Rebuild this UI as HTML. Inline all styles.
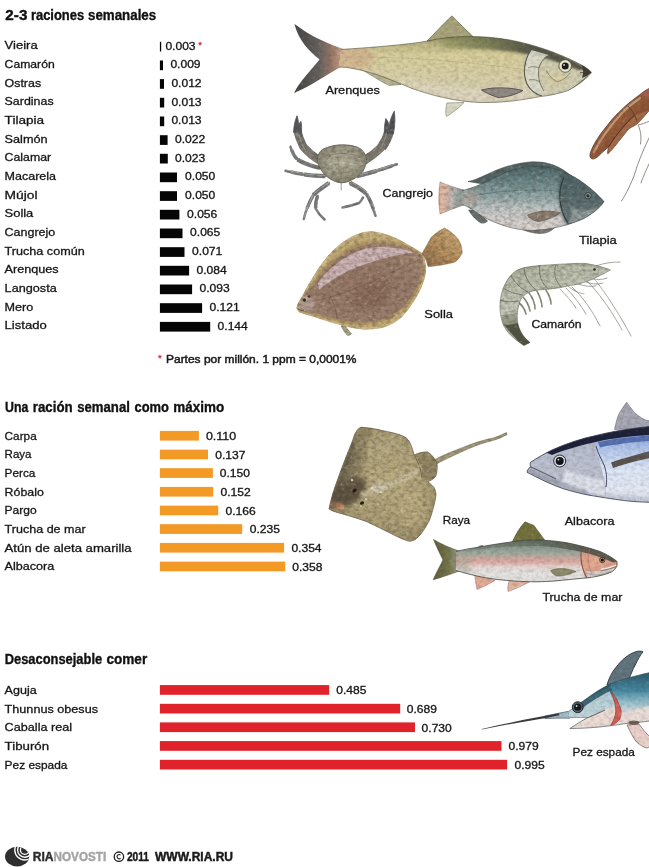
<!DOCTYPE html>
<html><head><meta charset="utf-8"><title>Mercurio en pescados</title>
<style>
html,body{margin:0;padding:0;background:#fff;}
body{width:649px;height:867px;overflow:hidden;font-family:"Liberation Sans",sans-serif;}
svg{display:block}
text{font-family:"Liberation Sans",sans-serif;}
</style></head><body>
<svg width="649" height="867" viewBox="0 0 649 867">
<rect width="649" height="867" fill="#ffffff"/>
<g id="art">
<defs>
  <filter id="b1" x="-40%" y="-40%" width="180%" height="180%"><feGaussianBlur stdDeviation="1"/></filter>
  <filter id="b2" x="-60%" y="-60%" width="220%" height="220%"><feGaussianBlur stdDeviation="2"/></filter>
  <filter id="b3" x="-80%" y="-80%" width="260%" height="260%"><feGaussianBlur stdDeviation="3.5"/></filter>
  <filter id="tex" x="-2%" y="-2%" width="104%" height="104%" color-interpolation-filters="sRGB">
    <feTurbulence type="fractalNoise" baseFrequency="0.22 0.3" numOctaves="3" seed="7" result="n"/>
    <feColorMatrix in="n" type="matrix" values="0 0 0 0 0.2  0 0 0 0 0.17  0 0 0 0 0.12  0.6 0.45 0 0 -0.44" result="dk"/>
    <feComposite in="dk" in2="SourceAlpha" operator="in" result="dkm"/>
    <feColorMatrix in="n" type="matrix" values="0 0 0 0 1  0 0 0 0 1  0 0 0 0 0.95  0 -0.45 -0.6 0 0.44" result="lt"/>
    <feComposite in="lt" in2="SourceAlpha" operator="in" result="ltm"/>
    <feMerge><feMergeNode in="SourceGraphic"/><feMergeNode in="dkm"/><feMergeNode in="ltm"/></feMerge>
  </filter>
  <filter id="texs" x="-2%" y="-2%" width="104%" height="104%" color-interpolation-filters="sRGB">
    <feTurbulence type="fractalNoise" baseFrequency="0.22 0.3" numOctaves="3" seed="7" result="n"/>
    <feColorMatrix in="n" type="matrix" values="0 0 0 0 0.2  0 0 0 0 0.17  0 0 0 0 0.12  0.3 0.25 0 0 -0.235" result="dk"/>
    <feComposite in="dk" in2="SourceAlpha" operator="in" result="dkm"/>
    <feColorMatrix in="n" type="matrix" values="0 0 0 0 1  0 0 0 0 1  0 0 0 0 0.95  0 -0.25 -0.3 0 0.235" result="lt"/>
    <feComposite in="lt" in2="SourceAlpha" operator="in" result="ltm"/>
    <feMerge><feMergeNode in="SourceGraphic"/><feMergeNode in="dkm"/><feMergeNode in="ltm"/></feMerge>
  </filter>
  <filter id="b05" x="-30%" y="-30%" width="160%" height="160%"><feGaussianBlur stdDeviation="0.5"/></filter>
  <!-- herring -->
  <linearGradient id="hBody" x1="0" y1="0" x2="0" y2="1">
    <stop offset="0" stop-color="#8a865a"/><stop offset="0.1" stop-color="#bdb584"/><stop offset="0.28" stop-color="#d8ce9c"/>
    <stop offset="0.65" stop-color="#d6cea8"/><stop offset="1" stop-color="#d9d0ba"/>
  </linearGradient>
  <linearGradient id="hTail" x1="0" y1="0" x2="1" y2="0">
    <stop offset="0" stop-color="#444442"/><stop offset="0.5" stop-color="#67625f"/><stop offset="0.78" stop-color="#a27c6c"/><stop offset="1" stop-color="#d2b596"/>
  </linearGradient>
  <linearGradient id="hBack" gradientUnits="userSpaceOnUse" x1="430" y1="0" x2="530" y2="0">
    <stop offset="0" stop-color="#7a7e56" stop-opacity="0"/><stop offset="0.45" stop-color="#6a6e4c" stop-opacity="0.55"/><stop offset="1" stop-color="#4c4e40" stop-opacity="0.92"/>
  </linearGradient>
  <clipPath id="hClip"><path d="M341,49.5 C370,47.5 405,45 428,41 C450,35.5 478,35.5 500,38.5 C525,41.5 556,51.5 580,64.2 C586,67.5 590,70 591.5,72.5 C588,77.5 578,85.5 568,90.5 C558,94 548,95.8 540,96.6 C525,99.5 505,103 480,102.5 C455,101.5 432,95.5 412,88.5 C392,80 366,68.5 339,66.8 Z"/></clipPath>
</defs>

<!-- ================= HERRING (Arenques) ================= -->
<g id="herring" filter="url(#texs)">
  <!-- tail -->
  <path d="M345,49.5 C330,45 310,36 294.5,24 C298,40 310,52 319.6,59.4 C311,70 299,82 294,93 C312,86 328,73 342,66.8 Z" fill="url(#hTail)"/>
  <!-- dorsal fin -->
  <path d="M427,41 C436,32 444,23 452,15.8 C458,22 466,30 474,37.5 Z" fill="#a9a47c" stroke="#5a5a40" stroke-width="0.6"/>
  <!-- anal fin -->
  <path d="M361,69 C372,76 382,82 389,85.5 L401,84.5 C392,80 376,72 366,68.5 Z" fill="#b9b696" stroke="#6a6a55" stroke-width="0.5"/>
  <!-- pelvic fin -->
  <path d="M447,103 C446,108 445,113 446.5,116.5 C452,113 459,108 464,102.5 Z" fill="#dcdcc8" stroke="#7a7a68" stroke-width="0.6"/>
  <!-- body -->
  <path d="M341,49.5 C370,47.5 405,45 428,41 C450,35.5 478,35.5 500,38.5 C525,41.5 556,51.5 580,64.2 C586,67.5 590,70 591.5,72.5 C588,77.5 578,85.5 568,90.5 C558,94 548,95.8 540,96.6 C525,99.5 505,103 480,102.5 C455,101.5 432,95.5 412,88.5 C392,80 366,68.5 339,66.8 Z" fill="url(#hBody)"/>
  <g clip-path="url(#hClip)">
    <!-- peduncle warm tint -->
    <ellipse cx="352" cy="58" rx="22" ry="12" fill="#d3b08e" opacity="0.7" filter="url(#b2)"/>
    <!-- green back -->
    <path d="M440,38 C470,32 520,38 575,58 L560,60 C520,50 480,46 445,48 Z" fill="#8f9a5c" opacity="0.42" filter="url(#b2)"/>
    <!-- pale belly -->
    <path d="M400,84 C440,100 500,106 560,90 L560,80 C500,94 440,90 400,76 Z" fill="#e6dfcc" opacity="0.45" filter="url(#b2)"/>
    <!-- head -->
    <path d="M527,42 C522,55 522,75 534,96 L600,96 L600,40 Z" fill="#cfcdb2" opacity="0.9"/>
    <path d="M430,38 C450,33.5 480,33.5 500,36.5 C525,40 560,51 590,70 L578,70 C560,62 540,56 520,53 C500,50 470,46.5 430,50 Z" fill="url(#hBack)" filter="url(#b1)"/>
    <!-- gill cover plates -->
    <path d="M531,50 C524,60 522.5,74 527,84 C530,90 535,94 542,96 L546,92 C540,86 537.5,78 538.5,70 C539.5,62 543,57 549,55 Z" fill="#dcdccc" opacity="0.9"/>
    <path d="M531,50 C524,60 522.5,74 527,84 C530,90 535,94 542,96" fill="none" stroke="#55584a" stroke-width="1.1"/>
    <path d="M550,56 C543,58 539,64 538.6,71 C538,79 540.5,86 544,91" fill="none" stroke="#6a6c5c" stroke-width="0.9"/>
    <path d="M528,68 C532,66 536,66.5 539,68" fill="none" stroke="#6a6c5c" stroke-width="0.7"/>
    <path d="M529,80 C533,79 537,80 540,82" fill="none" stroke="#6a6c5c" stroke-width="0.7"/>
    <ellipse cx="556" cy="79" rx="11" ry="7" fill="#d9cfa4" opacity="0.8" filter="url(#b1)"/>
    <path d="M546,70 C549,76 553,80 558,82 C563,80 567,77 570,73" fill="none" stroke="#7a7a64" stroke-width="0.7"/>
    <path d="M568.5,91 C576,86 583,80 588,75.5" fill="none" stroke="#55584a" stroke-width="0.8"/>
    <path d="M580,72.5 L590,72.2" fill="none" stroke="#3a3a30" stroke-width="0.8"/>
    <!-- snout dark -->
    <path d="M580,62 C586,66 590,69 591.5,72.5 C589,75 585,77 582,78 C584,72 583,67 580,62 Z" fill="#3f3a33"/>
    <!-- lateral line -->
    <path d="M345,57 C400,56 470,62 527,70" fill="none" stroke="#b0a880" stroke-width="0.6" opacity="0.8"/>
  </g>
  <!-- outline -->
  <path d="M341,49.5 C370,47.5 405,45 428,41 C450,35.5 478,35.5 500,38.5 C525,41.5 556,51.5 580,64.2 C586,67.5 590,70 591.5,72.5 C588,77.5 578,85.5 568,90.5 C558,94 548,95.8 540,96.6 C525,99.5 505,103 480,102.5 C455,101.5 432,95.5 412,88.5 C392,80 366,68.5 339,66.8" fill="none" stroke="#4d4d3a" stroke-width="0.7" opacity="0.8"/>
  <!-- pectoral fin -->
  <path d="M481.5,90 C495,86.5 510,87.5 523,90.5 C515,95 505,97.5 498,97.5 C492,95.5 486,93 481.5,90 Z" fill="#8f8a84" stroke="#4a4640" stroke-width="0.8"/>
  <!-- eye -->
  <circle cx="565.2" cy="66" r="6.3" fill="#efe8d0" stroke="#4a4a3c" stroke-width="0.8"/>
  <circle cx="565.2" cy="66" r="3.5" fill="#1a1a18"/>
  <circle cx="564.1" cy="64.9" r="0.9" fill="#f4f4f0"/>
</g>

<!-- ================= CRAB (Cangrejo) ================= -->
<defs>
  <radialGradient id="cCar" cx="0.5" cy="0.45" r="0.6">
    <stop offset="0" stop-color="#b3b09c"/><stop offset="0.6" stop-color="#9d9a86"/><stop offset="1" stop-color="#7c7868"/>
  </radialGradient>
</defs>
<g id="crab" filter="url(#tex)" stroke-linecap="round" stroke-linejoin="round" fill="none">
  <!-- legs -->
  <g stroke="#808282" stroke-width="2.5">
    <path d="M320,168 C312,166 303,163 297,159 C293,155 291.5,151 290.5,146.8"/>
    <path d="M325,176.2 C317,176 310,175.4 303.5,174.4 C297,173.4 291,172 285.5,170.7"/>
    <path d="M329,183 C323,187 317,191 313,195.5 C309,203 305.5,211 303.8,219"/>
    <path d="M317.5,196 C316,200 315.5,204 315.6,208.5 C318,213 321,216.5 324.5,219.5"/>
    <path d="M357,176.2 C364,174.5 371,172.6 377.5,170.6 C384,168.6 391,166.4 396.8,164.3"/>
    <path d="M350,183 C356,186 362,189.5 366.4,193.8 C370.5,201 373.5,208.5 375.5,215.8"/>
    <path d="M363,197.5 C362,199.5 361,201.5 359,203 C353.5,205 348,206.5 342.5,207.6"/>
  </g>
  <g stroke="#7b7d7c" stroke-width="4.2" stroke-linecap="butt">
    <path d="M320,168 C312,166 303,163 297.5,159.4"/>
    <path d="M325,176.2 C317,176 310,175.4 304,174.5"/>
    <path d="M329,183 C323,187 317,191 313.3,195.2"/>
    <path d="M357,176.2 C364,174.5 371,172.6 377,170.8"/>
    <path d="M350,183 C356,186 362,189.5 366,193.4"/>
  </g>
  <g stroke="#7b7d7c" stroke-width="3.4" stroke-linecap="butt">
    <path d="M317.5,196 C316,200 315.5,204 315.6,208"/>
    <path d="M296.8,158.8 C294,155.5 292.5,152.5 291.6,150"/>
    <path d="M303,174.3 C298,173.5 294,172.7 291,172"/>
    <path d="M312.8,196 C310.5,200 308.5,204.5 307,208.5"/>
    <path d="M378,170.4 C383,168.9 388,167.3 392,165.9"/>
    <path d="M366.6,194.2 C369.5,199 371.8,204 373.5,209"/>
  </g>
  <g stroke="#b4b6b4" stroke-width="1" opacity="0.7">
    <path d="M325,175.4 C317,175.2 310,174.6 303.5,173.6 C297,172.6 291,171.2 286.5,170.1"/>
    <path d="M357,175.4 C364,173.7 371,171.8 377.5,169.8 C384,167.8 390,165.8 395.8,163.8"/>
    <path d="M329.6,182 C323.6,186 317.6,190 313.6,194.5 C309.6,202 306.1,210 304.6,216.5"/>
    <path d="M350.6,182 C356.6,185 362.6,188.5 367,192.8 C371.1,200 374.1,207.5 375.6,213.4"/>
  </g>
  <!-- left claw -->
  <path d="M319,160 C313,156.5 308,152 304,147.5" stroke="#827d72" stroke-width="8"/>
  <path d="M303.5,147 C300.5,141 298.5,136 297.6,131" stroke="#76726a" stroke-width="8" stroke-linecap="butt"/>
  <path d="M293.6,132 C293.8,126 295,120.5 297,115.8 C298,119 298.6,122 298.6,125 C299.2,123.6 300,122.4 300.9,121.4 C301.8,125 301.8,129 301.4,132.5 Z" fill="#55565a" stroke="#55565a" stroke-width="0.8"/>
  <path d="M306,152 C303,147 300.5,141 299,135" stroke="#a6a298" stroke-width="1.2" opacity="0.7"/>
  <!-- right claw -->
  <path d="M365,160 C371,156.5 376.5,152 381,147.5" stroke="#827d72" stroke-width="8.5"/>
  <path d="M381.5,147.5 C385,142.5 387.6,137.5 389,132" stroke="#76726a" stroke-width="9.6" stroke-linecap="butt"/>
  <path d="M384.4,133 C384.2,128 384.8,123 385.8,118.6 C387.4,120.6 388.6,123 389.2,126 C390,120.5 391.8,115.5 394.2,111.2 C395.4,118 395,126 393.4,133.5 Z" fill="#55565a" stroke="#55565a" stroke-width="0.8"/>
  <path d="M379,150 C383,145 385.5,139 386.5,133" stroke="#a6a298" stroke-width="1.2" opacity="0.7"/>
  <!-- carapace -->
  <path d="M317.2,158.6 C318.5,153 321,149.5 325,148.3 C330,146 337,144.8 342.3,144.7 C348,144.8 354,145.8 358.2,147.4 C362.5,149.5 365.5,153.5 366.6,158.6 C366.5,163.5 365,168 362.7,171.6 C359,176 354.5,179 349.7,180.9 C346.5,182.3 343.5,182.8 340.5,182.8 C337,182.4 333.5,181 330.3,179 C326.5,176.6 323.2,173.5 321,169.7 C318.8,166.2 317.4,162.5 317.2,158.6 Z" fill="url(#cCar)" stroke="#625e50" stroke-width="0.8"/>
  <path d="M324,157 C329,153.5 335,155 342,153 C349,155 355,153.5 360,157" stroke="#77735f" stroke-width="1.1" opacity="0.7"/>
  <path d="M329,165 C335,162 349,162 355,165" stroke="#c6c3b0" stroke-width="1.3" opacity="0.7"/>
  <path d="M332,171 C338,174 346,174 352,171" stroke="#77735f" stroke-width="0.9" opacity="0.5"/>
  <path d="M341.2,168 L341.2,190" stroke="#857a68" stroke-width="0.7"/>
  <path d="M321,166 C326,175.5 334,180.5 340.8,181.6 C348,180.5 357,175.5 362.8,166" stroke="#a08560" stroke-width="0.8" opacity="0.55"/>
</g>

<!-- ================= TILAPIA ================= -->
<defs>
  <linearGradient id="tBody" x1="0" y1="0" x2="0" y2="1">
    <stop offset="0" stop-color="#4e6668"/><stop offset="0.22" stop-color="#698486"/><stop offset="0.48" stop-color="#93a8a9"/>
    <stop offset="0.68" stop-color="#c4c8c8"/><stop offset="1" stop-color="#e2d6d2"/>
  </linearGradient>
  <linearGradient id="tTail" x1="0" y1="0" x2="1" y2="0">
    <stop offset="0" stop-color="#ecb8a0"/><stop offset="0.3" stop-color="#d8b8aa"/><stop offset="0.6" stop-color="#b0b4b2"/><stop offset="1" stop-color="#8c9a9a"/>
  </linearGradient>
  <clipPath id="tClip"><path d="M462,190.5 C472,188.5 482,184 494,178 C508,171 520,167 532,166 C548,165.5 562,170 575,177.5 C586,184 597,193.5 604,201.5 C600,208 592,214 584,218.5 C570,225 550,230 531,230.5 C514,230 496,224 482,216 C474,211 468,206 462,204.5 Z"/></clipPath>
</defs>
<g id="tilapia" filter="url(#tex)">
  <!-- tail -->
  <path d="M464,190 C456,188 447,185 440,182 C438.5,192 438.5,204 440,214 C447,211 456,207.5 464,205 Z" fill="url(#tTail)" stroke="#8a7468" stroke-width="0.5"/>
  <!-- dorsal fin -->
  <path d="M468,181.5 C474,180.5 480,177.5 488,174 C502,167 518,162.5 533,161.8 C548,161.6 560,166 572,176.5 L566,174 C552,168 540,167 530,168 C514,170 498,177 486,184.5 Z" fill="#566769" stroke="#3c4a4c" stroke-width="0.5"/>
  <!-- lower fins -->
  <path d="M468.5,210 C472,216 477,221 481,223 C484,223.5 486.5,222.5 487.5,221 C484,217 479,213 474,210 Z" fill="#6a7272" stroke="#4a5252" stroke-width="0.5"/>
  <path d="M523,229.5 C530,233 540,234.5 547,232.5 C551,231 554,228.5 556,226 C545,228.5 534,229.5 523,229.5 Z" fill="#7d7a76" stroke="#55524e" stroke-width="0.5"/>
  <!-- body -->
  <path d="M462,190.5 C472,188.5 482,184 494,178 C508,171 520,167 532,166 C548,165.5 562,170 575,177.5 C586,184 597,193.5 604,201.5 C600,208 592,214 584,218.5 C570,225 550,230 531,230.5 C514,230 496,224 482,216 C474,211 468,206 462,204.5 Z" fill="url(#tBody)"/>
  <g clip-path="url(#tClip)">
    <!-- head darker -->
    <path d="M563,168 C556,184 556,206 567,226 L610,226 L610,168 Z" fill="#4f6266" opacity="0.85" filter="url(#b1)"/>
    <path d="M572,206 C580,212 592,212 604,203 L604,222 L570,226 Z" fill="#9aa4a4" opacity="0.8" filter="url(#b1)"/>
    <!-- gill -->
    <path d="M564,177 C557.5,190 558.5,209 568,223" fill="none" stroke="#2f3e40" stroke-width="1.1"/>
    <!-- lateral line -->
    <path d="M466,197 C500,190 535,188 566,192" fill="none" stroke="#4a6062" stroke-width="0.6" opacity="0.8"/>
    <!-- pink tint tail base -->
    <ellipse cx="470" cy="198" rx="10" ry="8" fill="#b9a9a0" opacity="0.6" filter="url(#b2)"/>
  </g>
  <path d="M462,190.5 C472,188.5 482,184 494,178 C508,171 520,167 532,166 C548,165.5 562,170 575,177.5 C586,184 597,193.5 604,201.5 C600,208 592,214 584,218.5 C570,225 550,230 531,230.5 C514,230 496,224 482,216 C474,211 468,206 462,204.5" fill="none" stroke="#3c4a4a" stroke-width="0.7" opacity="0.8"/>
  <!-- pectoral fin -->
  <path d="M527.5,215 C536,211 548,210 560.5,212.5 C555,217 546,220.5 538,221.5 C533,220.5 529,218 527.5,215 Z" fill="#8d8073" stroke="#5a5048" stroke-width="0.6"/>
  <!-- eye -->
  <circle cx="588" cy="195.7" r="3.2" fill="#9aa6a6" stroke="#22292a" stroke-width="0.8"/>
  <circle cx="588" cy="195.7" r="1.6" fill="#141818"/>
</g>

<!-- ================= SOLLA (plaice) ================= -->
<defs>
  <radialGradient id="sBody" cx="0.55" cy="0.55" r="0.6">
    <stop offset="0" stop-color="#957666"/><stop offset="0.7" stop-color="#9b7e6c"/><stop offset="1" stop-color="#a58a72"/>
  </radialGradient>
  <linearGradient id="sTail" x1="0" y1="1" x2="1" y2="0">
    <stop offset="0" stop-color="#8f6c54"/><stop offset="0.4" stop-color="#b48c5c"/><stop offset="1" stop-color="#d0ae78"/>
  </linearGradient>
  <clipPath id="sClip"><path d="M298.5,306 C302,297 308,290 314.3,284.4 C319,276 325,269.5 331.8,263.9 C337,258.5 343,254 349.4,250.7 C356,247 364,244.5 372.8,243.4 C381,243 389,243.5 396.2,244.9 C403,246.5 409,248.5 413.8,250.7 C417,252.5 420,254.5 422.6,256.6 C423.2,259 423.2,261.5 422.6,263.9 C422,272 420,280 416.7,287.3 C413,295 408,302 402.1,307.8 C396,313 389,317 381.6,319.5 C374,321.5 366,322.5 358.2,322.5 C350,321.8 342,320.3 334.8,318.1 C327,316.5 320,315 314.3,313.7 C308,312.5 302,311 298.5,309.5 Z"/></clipPath>
  <clipPath id="sClipO"><path d="M296.7,307.8 C298,303.5 300,299.5 302.6,296.1 C306,289 310,282 314.3,275.6 C318.5,268 323.5,261.5 328.9,255.1 C333.5,250 338.5,245.5 343.5,242 C349,238 355,235 361.1,233.2 C365,232 369,231.6 372.8,231.7 C379,232.5 385,234 390.4,236.1 C396.5,238.5 402.5,241.5 408,244.9 C413,247.5 418,250.5 422.6,253.7 C425,259.5 426,266 425.5,272.7 C424,281 421,289 416.7,296.1 C412.5,303.5 407.5,310.5 402.1,316.6 C396,322 389,326 381.6,327.7 C375,329 368,329.5 361.1,328.9 C353,328 345,326.3 337.7,323.9 C329.5,321.8 321.5,319.3 314.3,316.6 C309,315.2 304,313.8 299.6,312.2 C298,311 297,309.5 296.7,307.8 Z"/></clipPath>
</defs>
<g id="solla" filter="url(#tex)">
  <!-- fringe (fins) -->
  <path d="M296.7,307.8 C298,303.5 300,299.5 302.6,296.1 C306,289 310,282 314.3,275.6 C318.5,268 323.5,261.5 328.9,255.1 C333.5,250 338.5,245.5 343.5,242 C349,238 355,235 361.1,233.2 C365,232 369,231.6 372.8,231.7 C379,232.5 385,234 390.4,236.1 C396.5,238.5 402.5,241.5 408,244.9 C413,247.5 418,250.5 422.6,253.7 C425,259.5 426,266 425.5,272.7 C424,281 421,289 416.7,296.1 C412.5,303.5 407.5,310.5 402.1,316.6 C396,322 389,326 381.6,327.7 C375,329 368,329.5 361.1,328.9 C353,328 345,326.3 337.7,323.9 C329.5,321.8 321.5,319.3 314.3,316.6 C309,315.2 304,313.8 299.6,312.2 C298,311 297,309.5 296.7,307.8 Z" fill="#c4ad78" stroke="#ac965e" stroke-width="0.5"/>
  <g clip-path="url(#sClipO)">
    <path d="M298.5,306 C302,297 308,290 314.3,284.4 C319,276 325,269.5 331.8,263.9 C337,258.5 343,254 349.4,250.7 C356,247 364,244.5 372.8,243.4 C381,243 389,243.5 396.2,244.9 C403,246.5 409,248.5 413.8,250.7 C417,252.5 420,254.5 422.6,256.6 C423.2,259 423.2,261.5 422.6,263.9 C422,272 420,280 416.7,287.3 C413,295 408,302 402.1,307.8 C396,313 389,317 381.6,319.5 C374,321.5 366,322.5 358.2,322.5 C350,321.8 342,320.3 334.8,318.1 C327,316.5 320,315 314.3,313.7 C308,312.5 302,311 298.5,309.5 Z" fill="none" stroke="#9a7a56" stroke-width="5" opacity="0.55" filter="url(#b1)"/>
    <path d="M296.7,307.8 C298,303.5 300,299.5 302.6,296.1 C306,289 310,282 314.3,275.6 C318.5,268 323.5,261.5 328.9,255.1 C333.5,250 338.5,245.5 343.5,242 C349,238 355,235 361.1,233.2 C365,232 369,231.6 372.8,231.7 C379,232.5 385,234 390.4,236.1 C396.5,238.5 402.5,241.5 408,244.9 C413,247.5 418,250.5 422.6,253.7 C425,259.5 426,266 425.5,272.7 C424,281 421,289 416.7,296.1 C412.5,303.5 407.5,310.5 402.1,316.6 C396,322 389,326 381.6,327.7 C375,329 368,329.5 361.1,328.9 C353,328 345,326.3 337.7,323.9 C329.5,321.8 321.5,319.3 314.3,316.6 C309,315.2 304,313.8 299.6,312.2 C298,311 297,309.5 296.7,307.8 Z" fill="none" stroke="#d2c08a" stroke-width="3" opacity="0.55" filter="url(#b05)"/>
  </g>
  <!-- tail fan -->
  <path d="M422,253.5 C426,247 429,241 431.5,237 C436,233 440,230 444.5,228 C450,231 455,235 458,239 C461,244 462.5,249 462,253.5 C460,257 458,260 455,262 C446,264.5 437,266 428,266.5 C427,262 425,257.5 422,253.5 Z" fill="url(#sTail)" stroke="#8a6a48" stroke-width="0.5"/>
  <g stroke="#7a5a40" stroke-width="0.5" opacity="0.55" fill="none">
    <path d="M425,256 L444,229"/><path d="M426,258 L452,233"/><path d="M427,260 L459,241"/><path d="M427.5,262 L462,251"/><path d="M428,264 L456,261"/>
  </g>
  <!-- body -->
  <path d="M298.5,306 C302,297 308,290 314.3,284.4 C319,276 325,269.5 331.8,263.9 C337,258.5 343,254 349.4,250.7 C356,247 364,244.5 372.8,243.4 C381,243 389,243.5 396.2,244.9 C403,246.5 409,248.5 413.8,250.7 C417,252.5 420,254.5 422.6,256.6 C423.2,259 423.2,261.5 422.6,263.9 C422,272 420,280 416.7,287.3 C413,295 408,302 402.1,307.8 C396,313 389,317 381.6,319.5 C374,321.5 366,322.5 358.2,322.5 C350,321.8 342,320.3 334.8,318.1 C327,316.5 320,315 314.3,313.7 C308,312.5 302,311 298.5,309.5 Z" fill="url(#sBody)"/>
  <g clip-path="url(#sClip)">
    <!-- pink patch -->
    <path d="M318,283 C330,266 348,253 370,247.5 C388,246 404,249 414,252.5 C398,254.5 378,259 360,266 C344,272.5 330,280 319,290 Z" fill="#cfb6b8" opacity="0.95" filter="url(#b05)"/>
    <!-- head lighter -->
    <ellipse cx="306" cy="304" rx="10" ry="7.5" fill="#b8a398" opacity="0.85" filter="url(#b1)"/>
    <!-- lateral line -->
    <path d="M312,301 C340,297 372,282 420,259" fill="none" stroke="#6a4c3e" stroke-width="0.7" opacity="0.6"/>
    <path d="M328,292 C333,300 336,309 337,318" fill="none" stroke="#6a4c3e" stroke-width="0.8" opacity="0.5"/>
    <ellipse cx="372" cy="296" rx="20" ry="12" fill="#7c5a4a" opacity="0.35" filter="url(#b2)" transform="rotate(-25 372 296)"/>
  </g>
  <!-- eye + mouth -->
  <circle cx="304.5" cy="300" r="1.7" fill="#3a2a24"/>
  <circle cx="309" cy="296.5" r="1.3" fill="#4a3830"/>
  <path d="M297.5,308.5 C299.5,310.3 302,311 304,310.2" fill="none" stroke="#5a4238" stroke-width="0.8"/>
  <!-- small bottom fin -->
  <path d="M341,326 C343,329.5 345,333 347.5,335.5 C349.5,335.5 351,334.5 351.5,333.5 C349,331 347,328.5 345.5,326.5 Z" fill="#a9a68c" stroke="#7a7860" stroke-width="0.5"/>
</g>

<!-- ================= SHRIMP (Camaron) ================= -->
<defs>
  <linearGradient id="shBody" x1="0" y1="0" x2="0.3" y2="1">
    <stop offset="0" stop-color="#adb19c"/><stop offset="0.5" stop-color="#c6c9ba"/><stop offset="1" stop-color="#a4a892"/>
  </linearGradient>
  <clipPath id="shClip"><path d="M524,345.5 C514,339 507,333 503.5,325 C500,317 499,306 501,296 C503,286 508,277 515,271.5 C520,268 528,266.5 540,265.5 C556,264.5 574,263 586,263.5 C596,265 604,267.5 610.5,270 C604,273.5 598,276.5 593,279 C586,282 578,284.5 570,285.5 C560,288 548,289.5 538,290 C530,291 524,294 521,299 C518,305 516.5,314 517.5,322 C519,330 523,337 530,342.5 Z"/></clipPath>
</defs>
<g id="shrimp" filter="url(#tex)">
  <!-- antennae and legs -->
  <g fill="none" stroke="#8b8f84" stroke-width="0.7" stroke-linecap="round">
    <path d="M592,276 C602,288 616,308 631,336"/>
    <path d="M586,280 C598,292 610,308 622,330"/>
    <path d="M572,287 C582,296 592,310 600,326"/>
    <path d="M566,288 C574,296 580,304 586,314"/>
    <path d="M560,289 C566,295 572,302 576,308"/>
    <path d="M596,266 C604,263 612,262 620,262"/>
    <path d="M578,284 C584,286 590,287 596,286"/>
    <path d="M584,281 C590,284 597,285 603,283"/>
    <path d="M568,286 C572,290 578,293 584,294"/>
    <path d="M590,278 C596,280 602,280 607,278"/>
  </g>
  <!-- pleopods -->
  <g fill="none" stroke="#8a8e7c" stroke-width="1.6" stroke-linecap="round">
    <path d="M546,290 C549,295 551,300 551,304"/>
    <path d="M537,291 C540,297 542,302 542,307"/>
    <path d="M529,293 C533,298 535,303 535,309"/>
    <path d="M523,297 C527,301 529,306 530,311"/>
    <path d="M519,303 C523,306 525,310 526,314"/>
  </g>
  <!-- body -->
  <path d="M524,345.5 C514,339 507,333 503.5,325 C500,317 499,306 501,296 C503,286 508,277 515,271.5 C520,268 528,266.5 540,265.5 C556,264.5 574,263 586,263.5 C596,265 604,267.5 610.5,270 C604,273.5 598,276.5 593,279 C586,282 578,284.5 570,285.5 C560,288 548,289.5 538,290 C530,291 524,294 521,299 C518,305 516.5,314 517.5,322 C519,330 523,337 530,342.5 Z" fill="url(#shBody)" stroke="#6e7262" stroke-width="0.6"/>
  <g clip-path="url(#shClip)">
    <!-- tail dark -->
    <path d="M504,325 L518,322.5 L532,342 L524,348 Z" fill="#4c4f3e" opacity="0.92" filter="url(#b05)"/>
    <path d="M501,315 L518,313 L518.5,323 L503,326 Z" fill="#8c917c" opacity="0.7" filter="url(#b05)"/>
    <!-- segment lines -->
    <g fill="none" stroke="#676b58" stroke-width="0.9" opacity="0.85">
      <path d="M500,300 C506,302 512,302 519,301"/>
      <path d="M503,288 C509,292 516,294 523,295"/>
      <path d="M511,275 C514,282 520,288 528,292"/>
      <path d="M524,267 C524,276 529,285 537,290.5"/>
      <path d="M540,265 C538,274 541,283 549,289.5"/>
      <path d="M556,264.5 C553,272 555,281 562,288"/>
    </g>
    <!-- back darker -->
    <path d="M500,305 C500,285 510,270 530,266 C550,263.5 580,262 610,269 L610,266 C580,258 545,258 522,262 C504,268 494,288 496,308 Z" fill="#858a72" opacity="0.5" filter="url(#b1)"/>
  </g>
  <circle cx="594.5" cy="269.5" r="1.3" fill="#2a2c24"/>
</g>

<!-- ================= RAY (Raya) ================= -->
<defs>
  <radialGradient id="rBody" cx="0.55" cy="0.45" r="0.65">
    <stop offset="0" stop-color="#bcae84"/><stop offset="0.6" stop-color="#ad9f76"/><stop offset="1" stop-color="#968a66"/>
  </radialGradient>
  <clipPath id="rClip"><path d="M329,509 C331,499 334,489 337.5,480 C342,467 348,452 352.5,441 C354.5,434 357,428.5 361,427.3 C368,427.5 376,429 382,430.5 C390,432 396,433.5 400.5,435 C406,437 409,440 410,443 C412,447 413,451 414,455 C417,453.5 423,451.5 428,452 C432,455 435.5,459 437,464 C437.5,469 437,473 435.6,476.6 C433,479.5 430,481 427.5,481.5 C430,483.5 432.5,485.5 434,487.5 C436,491 436.2,495 435.5,498.5 C434,506 432,513 429.5,520 C426.5,526 423,532 418.5,536.5 C416,539.5 413,541 409.5,541.3 C404,540 399,537.5 394,535 C385,530.5 376,526 366,521.3 C358,518.5 350,516 341.5,513.6 C337,512.5 332,511 329,509 Z"/></clipPath>
</defs>
<g id="ray" filter="url(#tex)">
  <!-- tail -->
  <path d="M404,474 C416,469 428,463 438,458 C450,452 460,448.5 468,445.5 C478,441.5 486,439.5 493,438 C498,436.5 502,434.5 506.5,432.5 L507,434.5 C503,436.8 498,439 493.5,440.3 C486,442.2 478,444.6 469,448.5 C460,452.5 450,457 440,462 C430,467.5 418,473.5 408,479 Z" fill="#a3997a" stroke="#6a634e" stroke-width="0.5"/>
  <!-- body -->
  <path d="M329,509 C331,499 334,489 337.5,480 C342,467 348,452 352.5,441 C354.5,434 357,428.5 361,427.3 C368,427.5 376,429 382,430.5 C390,432 396,433.5 400.5,435 C406,437 409,440 410,443 C412,447 413,451 414,455 C417,453.5 423,451.5 428,452 C432,455 435.5,459 437,464 C437.5,469 437,473 435.6,476.6 C433,479.5 430,481 427.5,481.5 C430,483.5 432.5,485.5 434,487.5 C436,491 436.2,495 435.5,498.5 C434,506 432,513 429.5,520 C426.5,526 423,532 418.5,536.5 C416,539.5 413,541 409.5,541.3 C404,540 399,537.5 394,535 C385,530.5 376,526 366,521.3 C358,518.5 350,516 341.5,513.6 C337,512.5 332,511 329,509 Z" fill="url(#rBody)" stroke="#5e5844" stroke-width="0.7"/>
  <g clip-path="url(#rClip)">
    <!-- dark head zone -->
    <ellipse cx="348" cy="492" rx="20" ry="12" fill="#4e4236" opacity="0.8" filter="url(#b2)" transform="rotate(-35 348 492)"/>
    <ellipse cx="352" cy="470" rx="9" ry="22" fill="#6a6050" opacity="0.5" filter="url(#b3)" transform="rotate(20 352 470)"/>
    <!-- pink nose -->
    <ellipse cx="337" cy="505.5" rx="7.5" ry="3.6" fill="#cc8a68" opacity="0.85" filter="url(#b1)" transform="rotate(12 337 505.5)"/>
    <!-- lighter center ridge toward tail -->
    <path d="M360,492 C380,486 400,478 422,466 L424,471 C404,484 382,493 362,498 Z" fill="#cdc3a2" opacity="0.75" filter="url(#b1)"/>
    <ellipse cx="412" cy="508" rx="16" ry="20" fill="#c4b288" opacity="0.55" filter="url(#b3)"/>
    <ellipse cx="385" cy="448" rx="18" ry="10" fill="#bcb08c" opacity="0.4" filter="url(#b3)"/>
    <!-- darker top-left wing -->
    <path d="M352,441 C356,430 362,427 372,429 C366,445 356,465 344,482 L336,484 Z" fill="#776d54" opacity="0.5" filter="url(#b2)"/>
    <path d="M329,509 C333,492 342,468 352.5,441 L356,443 C347,468 340,490 336,508 Z" fill="#5e5644" opacity="0.6" filter="url(#b1)"/>
    <!-- pelvic fin shade -->
    <path d="M414,455 C420,452 428,451 432,455 C437,462 437,472 434,478 C428,482 424,480 421,477 C424,470 420,462 414,455 Z" fill="#82785a" opacity="0.6"/>
    <path d="M414,455 C418,462 422,470 421.5,478" fill="none" stroke="#5e5844" stroke-width="0.7"/>
    <!-- light spots -->
    <ellipse cx="380" cy="487" rx="9" ry="5" fill="#d4cdb8" opacity="0.5" filter="url(#b1)" transform="rotate(-20 380 487)"/>
    <g fill="#e6e0cc" opacity="0.8"><circle cx="372" cy="488" r="1.5"/><circle cx="381" cy="492" r="1.2"/><circle cx="366" cy="499" r="1.2"/><circle cx="352" cy="480" r="1.3"/><circle cx="361" cy="506" r="1.1"/></g>
  </g>
  <!-- eyes -->
  <ellipse cx="354.5" cy="490.5" rx="2.4" ry="1.6" fill="#1f1a16" transform="rotate(-30 354.5 490.5)"/>
  <ellipse cx="362" cy="503" rx="2.2" ry="1.5" fill="#1f1a16" transform="rotate(-30 362 503)"/>
</g>

<!-- ================= ALBACORA (tuna head) ================= -->
<defs>
  <linearGradient id="aBody" x1="0" y1="0" x2="0" y2="1">
    <stop offset="0" stop-color="#7088c0"/><stop offset="0.25" stop-color="#a9c0ec"/><stop offset="0.55" stop-color="#dce6f8"/><stop offset="0.85" stop-color="#e4eaf4"/><stop offset="1" stop-color="#cdd3e0"/>
  </linearGradient>
  <clipPath id="aClip"><path d="M530.3,462.5 C536,458.5 544,454 552,450 C566,443.5 582,438.5 596,435.5 C612,431.5 630,428.5 650,426.5 L650,502.3 C640,502 632,501.5 626,500.8 C612,499 600,497 588,495 C576,492.5 566,490 556,486 C546,482 536,477 527,472.2 C527.5,469.5 529,467.5 531,467 C530,465.5 530,464 530.3,462.5 Z"/></clipPath>
</defs>
<g id="albacora" filter="url(#texs)">
  <!-- dorsal fin -->
  <path d="M614.5,429.5 C616,423 617,418 618.5,415 C621,410 624,406 626.7,402.3 C629,405.5 631.5,409 634.5,412.5 C637,415 640,417 643,418.8 C645,420 647,420.5 650,420.8 L650,428 Z" fill="#a7a9b6" stroke="#6a6c78" stroke-width="0.6"/>
  <g stroke="#80828e" stroke-width="0.5" opacity="0.7"><path d="M620,428 L626,405"/><path d="M627,427 L632,411"/><path d="M634,426 L638,416"/><path d="M641,425 L644,420"/></g>
  <!-- body -->
  <path d="M530.3,462.5 C536,458.5 544,454 552,450 C566,443.5 582,438.5 596,435.5 C612,431.5 630,428.5 650,426.5 L650,502.3 C640,502 632,501.5 626,500.8 C612,499 600,497 588,495 C576,492.5 566,490 556,486 C546,482 536,477 527,472.2 C527.5,469.5 529,467.5 531,467 C530,465.5 530,464 530.3,462.5 Z" fill="url(#aBody)"/>
  <g clip-path="url(#aClip)">
    <!-- head silver grey -->
    <path d="M525,460 L597,432 C594,445 600,462 606,486 L606,500 L520,478 Z" fill="#b9bece" opacity="0.95"/>
    <path d="M566,470 C576,474 590,478 604,480 L606,496 L560,488 Z" fill="#e2e6f0" opacity="0.85" filter="url(#b1)"/>
    <path d="M527,472 C540,480 560,489 590,496 L586,490 C566,484 546,476 532,468 Z" fill="#8f94a4" opacity="0.6" filter="url(#b1)"/>
    <!-- dark back band -->
    <path d="M545,452 C566,442.5 582,437.5 596,434.5 C612,430.5 630,427.5 650,425.5 L650,435 C630,436 612,438.5 598,441.5 C584,444.5 566,449 552,455 Z" fill="#1c2038"/>
    <path d="M598,442 C614,439 632,436.5 650,435.5 L650,441 C632,442 614,444.5 600,447.5 Z" fill="#4e68ac" opacity="0.9"/>
    <!-- gill line -->
    <path d="M596,446 C598,454 602,460 604.5,466 C607,474 607,481 606,487" fill="none" stroke="#3a4058" stroke-width="0.9"/>
    <!-- pectoral fin -->
    <path d="M611,462.5 C624,458 638,454.5 650,451 L650,458 C638,460.5 624,464 613,468 Z" fill="#5a544e"/>
    <!-- lower shade -->
    <path d="M606,492 C620,496 636,498 650,498 L650,504 L606,500 Z" fill="#b4bacc" opacity="0.5" filter="url(#b1)"/>
    <!-- mouth -->
    <path d="M531,467 C540,471 548,475 556,479" fill="none" stroke="#4a4e5e" stroke-width="0.9"/>
  </g>
  <path d="M530.3,462.5 C536,458.5 544,454 552,450 C566,443.5 582,438.5 596,435.5 C612,431.5 630,428.5 650,426.5 M650,502.3 C640,502 632,501.5 626,500.8 C612,499 600,497 588,495 C576,492.5 566,490 556,486 C546,482 536,477 527,472.2 C527.5,469.5 529,467.5 531,467 C530,465.5 530,464 530.3,462.5" fill="none" stroke="#3a3e52" stroke-width="0.8"/>
  <!-- eye -->
  <circle cx="559.7" cy="461" r="6" fill="#e6e8ee" stroke="#2a2c38" stroke-width="1"/>
  <circle cx="559.7" cy="461" r="4" fill="#12131a"/>
  <circle cx="558.4" cy="459.6" r="0.9" fill="#e8eaf0"/>
</g>

<!-- ================= TROUT (Trucha de mar) ================= -->
<defs>
  <linearGradient id="trBody" x1="0" y1="0" x2="0" y2="1">
    <stop offset="0" stop-color="#728074"/><stop offset="0.3" stop-color="#9ba89e"/><stop offset="0.43" stop-color="#c9aaa2"/><stop offset="0.52" stop-color="#dba8a0"/>
    <stop offset="0.64" stop-color="#e6d6d2"/><stop offset="0.8" stop-color="#e6e4e2"/><stop offset="1" stop-color="#e2e0de"/>
  </linearGradient>
  <linearGradient id="trTail" x1="0" y1="0" x2="1" y2="0">
    <stop offset="0" stop-color="#5c5c38"/><stop offset="0.6" stop-color="#75764c"/><stop offset="1" stop-color="#9aa08a"/>
  </linearGradient>
  <linearGradient id="trBack" gradientUnits="userSpaceOnUse" x1="470" y1="0" x2="590" y2="0">
    <stop offset="0" stop-color="#5a6458" stop-opacity="0.25"/><stop offset="0.6" stop-color="#545a4e" stop-opacity="0.6"/><stop offset="1" stop-color="#4c5046" stop-opacity="0.88"/>
  </linearGradient>
  <clipPath id="trClip"><path d="M456,551.5 C464,549.5 470,548.5 477,547.5 C490,545 500,543.5 511,542 C520,540.5 530,539.5 540,540 C550,540.5 560,541.5 568,543 C578,545 590,548 600,551.5 C607,554.5 613,558 616.8,561.3 C617.3,563.2 617.2,565 616.6,566.5 C615.5,568.6 614,570.3 611.8,571.8 C606,574.6 597,576.6 588,577.8 C578,578.5 566,580 554,581 C544,581.8 534,582 524,581.5 C512,581 500,580 490,578.5 C480,577 468,574 456,570.5 Z"/></clipPath>
</defs>
<g id="trout" filter="url(#texs)">
  <!-- tail -->
  <path d="M459,551 C450,548 441,544 433.5,539.5 C436.5,547 440,554 443,560 C440,566 436.5,572 433.2,579.8 C441,577.5 450,574.5 459,571 Z" fill="url(#trTail)" stroke="#4a4a30" stroke-width="0.5"/>
  <!-- dorsal fin -->
  <path d="M512.5,541.5 C516,534 520,527 525,521.8 C528,523 531,524.5 534,525.5 C537,530 541,535 544.5,540 Z" fill="#74723e" stroke="#4a4828" stroke-width="0.6"/>
  <!-- adipose -->
  <path d="M477,547.5 C479,545.5 481,544.8 483,545 C483.5,546 483.5,546.5 483,547 Z" fill="#7f8a70"/>
  <!-- anal & pelvic fins -->
  <path d="M474.5,573 C475,579 476,585 477,589.5 C483,587 489,584 495,580.5 C489,578.5 481,576 474.5,573 Z" fill="#e2ab98" stroke="#a0746a" stroke-width="0.5"/>
  <path d="M509,581 C508,585 507.5,588 508,591.5 C514,589.5 522,586 529.5,582 C523,582 516,581.8 509,581 Z" fill="#e4b8a4" stroke="#a0746a" stroke-width="0.5"/>
  <!-- body -->
  <path d="M456,551.5 C464,549.5 470,548.5 477,547.5 C490,545 500,543.5 511,542 C520,540.5 530,539.5 540,540 C550,540.5 560,541.5 568,543 C578,545 590,548 600,551.5 C607,554.5 613,558 616.8,561.3 C617.3,563.2 617.2,565 616.6,566.5 C615.5,568.6 614,570.3 611.8,571.8 C606,574.6 597,576.6 588,577.8 C578,578.5 566,580 554,581 C544,581.8 534,582 524,581.5 C512,581 500,580 490,578.5 C480,577 468,574 456,570.5 Z" fill="url(#trBody)"/>
  <g clip-path="url(#trClip)">
    <!-- head -->
    <path d="M583,544 C579,552 580,566 586,580 L620,580 L620,544 Z" fill="#dc9f8a" opacity="0.95"/>
    <path d="M584,560 C590,556 598,556 604,560 C600,566 592,569 585,568 Z" fill="#e4ad92" opacity="0.8" filter="url(#b05)"/>
    <path d="M586,571 C596,572 606,570.5 616.5,566.5 L618,580 L588,581 Z" fill="#d9d3cf" opacity="0.95"/>
    <path d="M586,573 C594,576 604,575 612,571.5" fill="none" stroke="#a8a29c" stroke-width="1.6" opacity="0.7" filter="url(#b05)"/>
    <path d="M470,546 C490,542 515,538.5 540,538 C556,540 572,543 588,547.5 C600,551 610,556 617.5,561.5 L613,562.5 C606,559 598,556 588,553.5 C572,549.5 556,547 540,546 C515,545.5 490,548 470,551 Z" fill="url(#trBack)" filter="url(#b05)"/>
    <path d="M583,546 C579,554 581,568 587,578" fill="none" stroke="#7a4e46" stroke-width="1"/>
    <path d="M590,548 C587,556 588,566 592,574" fill="none" stroke="#b8746a" stroke-width="0.8" opacity="0.7"/>
    <!-- mouth -->
    <path d="M600.5,569.6 C606,568.8 611,567.4 616.2,565.2" fill="none" stroke="#f2ece6" stroke-width="1.5"/>
    <path d="M600.5,570.8 C606,570 611,568.6 616.4,566.4" fill="none" stroke="#5a4640" stroke-width="0.6"/>
    <!-- tail base tint -->
    <path d="M456,551 L470,549 L470,575 L456,571 Z" fill="#a3a896" opacity="0.5" filter="url(#b2)"/>
  </g>
  <path d="M456,551.5 C464,549.5 470,548.5 477,547.5 C490,545 500,543.5 511,542 C520,540.5 530,539.5 540,540 C550,540.5 560,541.5 568,543 C578,545 590,548 600,551.5 C607,554.5 613,558 616.8,561.3 C617.3,563.2 617.2,565 616.6,566.5 C615.5,568.6 614,570.3 611.8,571.8 C606,574.6 597,576.6 588,577.8 C578,578.5 566,580 554,581 C544,581.8 534,582 524,581.5 C512,581 500,580 490,578.5 C480,577 468,574 456,570.5" fill="none" stroke="#444a42" stroke-width="0.9" opacity="0.9"/>
  <!-- pectoral fin -->
  <path d="M550.5,570.5 C558,567.5 567,568 576,571.5 C570,574.5 562,576.5 556,576 C553.5,574.5 551.5,572.5 550.5,570.5 Z" fill="#8d8a6e" stroke="#5a583e" stroke-width="0.5"/>
  <!-- eye -->
  <circle cx="602.3" cy="560" r="2.7" fill="#b89868" stroke="#2a221e" stroke-width="0.7"/>
  <circle cx="602.3" cy="560" r="1.6" fill="#1a1210"/>
</g>

<!-- ================= SWORDFISH (Pez espada) ================= -->
<defs>
  <linearGradient id="swBody" x1="0" y1="0" x2="0" y2="1">
    <stop offset="0" stop-color="#2c5a6e"/><stop offset="0.32" stop-color="#4688a0"/><stop offset="0.55" stop-color="#9cc4d0"/><stop offset="0.75" stop-color="#e2e4e6"/><stop offset="1" stop-color="#eadcd8"/>
  </linearGradient>
  <clipPath id="swClip"><path d="M568.5,711.6 C574,707.5 580,703 586,699 C594,693 602,688 610,684 C620,680 634,676 650,672.5 L650,721 C642,722 634,723 626,723.5 C616,725 606,726.5 597,727.2 C588,728 578,728.5 569.8,728.5 C576,724.5 582,720.5 588,717.5 C582,717.5 575,717.8 569.8,718 Z"/></clipPath>
</defs>
<g id="swordfish" filter="url(#texs)">
  <!-- sword -->
  <path d="M545,716 C553,714.3 561,712.8 568.7,711.3 L570,718.2 C562,718 553,718.2 545,718.6 Z" fill="#9fbcc8" stroke="#3c4a52" stroke-width="0.6"/>
  <path d="M481.9,729 C500,724.6 520,720.6 540,716.8 C547,715.4 553,714.3 559,713.2 L559.5,715.2 C553,716.6 547,717.8 540,719 C520,722.2 500,725.8 481.9,729.4 Z" fill="#3a3c40"/>
  <!-- dorsal fin -->
  <path d="M607,685 C609,678 612,672 615.5,668 C619,663.5 622,660 626,657 C630,654 634,652 638,651.2 C640,651 642,651.2 643,651.8 C640,655.5 638,659.5 636,663.5 C634,667 632.5,670.5 631,674 C630,676.5 629.5,678 629,679.5 Z" fill="#62757f" stroke="#2c3840" stroke-width="0.9"/>
  <!-- pectoral fin -->
  <path d="M627,725 C630,731.5 633,737.5 636.5,742 C640,745 643.5,747.3 647,748 L650,746.5 L650,737 C646,733 642,728.5 639,724 Z" fill="#ecd2cc" stroke="#7a5e58" stroke-width="0.7"/>
  
  <!-- body -->
  <path d="M568.5,711.6 C574,707.5 580,703 586,699 C594,693 602,688 610,684 C620,680 634,676 650,672.5 L650,721 C642,722 634,723 626,723.5 C616,725 606,726.5 597,727.2 C588,728 578,728.5 569.8,728.5 C576,724.5 582,720.5 588,717.5 C582,717.5 575,717.8 569.8,718 Z" fill="url(#swBody)"/>
  <g clip-path="url(#swClip)">
    <!-- face silver -->
    <path d="M568,712 C580,704 594,694 608,688 C612,696 616,706 618,720 L566,722 Z" fill="#bcd2da" opacity="0.92"/>
    <path d="M575,706 C586,697 598,690 610,684 L612,690 C600,696 590,702 580,710 Z" fill="#2c5564" opacity="0.85" filter="url(#b05)"/>
    <!-- lower jaw pale -->
    <path d="M569.8,728.5 C576,724.5 582,720.5 588,717.5 C596,714 606,710 614,706 L622,724 L569,729.5 Z" fill="#ecdcd6"/>
    <!-- red gill -->
    <path d="M610.5,691 C615,696 618.5,702 620.5,708 C621.8,712 621.5,716 619.5,719.5 C617,722.5 614,724.5 610.5,725.5 C613.5,721 615.5,716 615.8,711 C615.8,704 613.5,697 610.5,691 Z" fill="#cf6258" stroke="#a83830" stroke-width="0.7"/>
    <!-- belly pale -->
    <path d="M622,712 C632,710 642,708 650,706 L650,724 L622,726 Z" fill="#ecdcd6" opacity="0.9" filter="url(#b1)"/>
    <!-- mouth line -->
    <path d="M569.8,718 C576,717.8 582,717.6 588,717.5 C594,715 600,712.5 605,710" fill="none" stroke="#4a4a50" stroke-width="0.8"/>
  </g>
  <path d="M568.5,711.6 C574,707.5 580,703 586,699 C594,693 602,688 610,684 C620,680 634,676 650,672.5 M650,721 C642,722 634,723 626,723.5 C616,725 606,726.5 597,727.2 C588,728 578,728.5 569.8,728.5 C576,724.5 582,720.5 588,717.5" fill="none" stroke="#3a4a52" stroke-width="0.7" opacity="0.85"/>
  <ellipse cx="634" cy="722.6" rx="5.5" ry="2.2" fill="#4e4038" opacity="0.75" filter="url(#b05)"/>
  <!-- eye -->
  <circle cx="577.7" cy="707.2" r="5.4" fill="#596e78" stroke="#1c2428" stroke-width="1"/>
  <circle cx="577.7" cy="707.2" r="3.6" fill="#15191c"/>
  <circle cx="576.6" cy="706" r="0.9" fill="#cfdde2"/>
</g>

<!-- ================= LOBSTER CLAW (Langosta, partial) ================= -->
<defs>
  <linearGradient id="lbClaw" x1="0" y1="0" x2="1" y2="1">
    <stop offset="0" stop-color="#b07a54"/><stop offset="0.45" stop-color="#965c3a"/><stop offset="1" stop-color="#74402a"/>
  </linearGradient>
</defs>
<g id="lobster" filter="url(#texs)">
  <g fill="none" stroke="#7c7670" stroke-width="0.8" stroke-linecap="round">
    <path d="M650,136 C644,148 638,162 634,176 C629,188 625,196 621.5,201"/>
    <path d="M650,162 C646,170 643,177 641,183"/>
    <path d="M650,121 C645,123 641,124.5 638,125 C641,131 641.5,138 640.5,144"/>
  </g>
  <!-- claw main -->
  <path d="M650,88 C646,90 643,92 640,94.5 C634,99 630,102 626,105.5 C620,111 616,115 612,119.5 C606,127 601,133 597.5,138.5 C594,144 591,150 590,154 C589.5,156.5 590.5,158.5 592.5,159 C595,159 597,157.5 599,155.5 C602,152.5 605,150 608.5,147 C608,149.5 607.5,151.5 607.8,153.8 C611,151 614,147.5 617,143.5 C621,138.5 625,133.5 629,128.5 C633,126.5 636,125 638,123 C642,119 646,114 650,109.5 Z" fill="url(#lbClaw)" stroke="#55301e" stroke-width="0.7"/>
  <path d="M594,152 C600,140 610,126 622,113 C628,107 634,102 640,98" fill="none" stroke="#d2ae8e" stroke-width="2.2" opacity="0.75" stroke-linecap="round"/>
  <path d="M608.6,147 C612,141 618,133 624,126 C628,121.5 631,118.5 634,116 L650,109.5 C646,114 642,119 638,123 C636,125 633,126.5 629,128.5 C625,133.5 621,138.5 617,143.5 C614,147.5 611,151 607.8,153.8 C607.5,151.5 608,149.5 608.6,147 Z" fill="#b27c58" opacity="0.55"/>
  <path d="M608.6,147 C612,141 618,133 624,126 C628,121.5 631,118.5 634,116" fill="none" stroke="#4e2818" stroke-width="1" opacity="0.9"/>
  <path d="M628,106 C632,110 636,116 637,122" fill="none" stroke="#5a2f1c" stroke-width="0.9" opacity="0.8"/>
  <path d="M641,94 L650,99 L650,88 Z" fill="#a65c50" opacity="0.9"/>
</g>

</g>
<g id="txt" opacity="0.999">
<text x="5.3" y="20.2" font-size="14.4" fill="#111" font-weight="bold" textLength="22.1" lengthAdjust="spacingAndGlyphs" stroke="#111" stroke-width="0.35">2-3</text>
<text x="30.9" y="20.2" font-size="14.4" fill="#111" font-weight="bold" textLength="53.3" lengthAdjust="spacingAndGlyphs" stroke="#111" stroke-width="0.35">raciones</text>
<text x="88.0" y="20.2" font-size="14.4" fill="#111" font-weight="bold" textLength="68.2" lengthAdjust="spacingAndGlyphs" stroke="#111" stroke-width="0.35">semanales</text>
<text x="5.0" y="411.8" font-size="14.4" fill="#111" font-weight="bold" textLength="23.3" lengthAdjust="spacingAndGlyphs" stroke="#111" stroke-width="0.35">Una</text>
<text x="32.8" y="411.8" font-size="14.4" fill="#111" font-weight="bold" textLength="39.9" lengthAdjust="spacingAndGlyphs" stroke="#111" stroke-width="0.35">ración</text>
<text x="77.2" y="411.8" font-size="14.4" fill="#111" font-weight="bold" textLength="52.7" lengthAdjust="spacingAndGlyphs" stroke="#111" stroke-width="0.35">semanal</text>
<text x="134.5" y="411.8" font-size="14.4" fill="#111" font-weight="bold" textLength="34.4" lengthAdjust="spacingAndGlyphs" stroke="#111" stroke-width="0.35">como</text>
<text x="173.3" y="411.8" font-size="14.4" fill="#111" font-weight="bold" textLength="50.9" lengthAdjust="spacingAndGlyphs" stroke="#111" stroke-width="0.35">máximo</text>
<text x="4.7" y="663.9" font-size="14.4" fill="#111" font-weight="bold" textLength="97.5" lengthAdjust="spacingAndGlyphs" stroke="#111" stroke-width="0.35">Desaconsejable</text>
<text x="106.4" y="663.9" font-size="14.4" fill="#111" font-weight="bold" textLength="40.8" lengthAdjust="spacingAndGlyphs" stroke="#111" stroke-width="0.35">comer</text>
<text x="4.6" y="49.2" font-size="11.5" fill="#161616" textLength="33.1" lengthAdjust="spacingAndGlyphs"  stroke="#161616" stroke-width="0.3">Vieira</text>
<rect x="159.9" y="41.8" width="1.3" height="9.7" fill="#050505"/>
<text x="165.4" y="49.5" font-size="10.4" fill="#161616" textLength="30.2" lengthAdjust="spacingAndGlyphs"  stroke="#161616" stroke-width="0.3">0.003</text>
<text x="4.6" y="67.9" font-size="11.5" fill="#161616" textLength="50.1" lengthAdjust="spacingAndGlyphs"  stroke="#161616" stroke-width="0.3">Camarón</text>
<rect x="159.9" y="60.5" width="3.1" height="9.7" fill="#050505"/>
<text x="170.4" y="68.2" font-size="10.4" fill="#161616" textLength="30.2" lengthAdjust="spacingAndGlyphs"  stroke="#161616" stroke-width="0.3">0.009</text>
<text x="4.6" y="86.5" font-size="11.5" fill="#161616" textLength="36.5" lengthAdjust="spacingAndGlyphs"  stroke="#161616" stroke-width="0.3">Ostras</text>
<rect x="159.9" y="79.1" width="4.1" height="9.7" fill="#050505"/>
<text x="171.4" y="86.8" font-size="10.4" fill="#161616" textLength="30.2" lengthAdjust="spacingAndGlyphs"  stroke="#161616" stroke-width="0.3">0.012</text>
<text x="4.6" y="105.2" font-size="11.5" fill="#161616" textLength="49.0" lengthAdjust="spacingAndGlyphs"  stroke="#161616" stroke-width="0.3">Sardinas</text>
<rect x="159.9" y="97.8" width="4.3" height="9.7" fill="#050505"/>
<text x="171.4" y="105.5" font-size="10.4" fill="#161616" textLength="30.2" lengthAdjust="spacingAndGlyphs"  stroke="#161616" stroke-width="0.3">0.013</text>
<text x="4.6" y="123.9" font-size="11.5" fill="#161616" textLength="39.5" lengthAdjust="spacingAndGlyphs"  stroke="#161616" stroke-width="0.3">Tilapia</text>
<rect x="159.9" y="116.5" width="4.3" height="9.7" fill="#050505"/>
<text x="171.4" y="124.2" font-size="10.4" fill="#161616" textLength="30.2" lengthAdjust="spacingAndGlyphs"  stroke="#161616" stroke-width="0.3">0.013</text>
<text x="4.6" y="142.6" font-size="11.5" fill="#161616" textLength="43.0" lengthAdjust="spacingAndGlyphs"  stroke="#161616" stroke-width="0.3">Salmón</text>
<rect x="159.9" y="135.2" width="7.7" height="9.7" fill="#050505"/>
<text x="175.0" y="142.9" font-size="10.4" fill="#161616" textLength="30.2" lengthAdjust="spacingAndGlyphs"  stroke="#161616" stroke-width="0.3">0.022</text>
<text x="4.6" y="161.2" font-size="11.5" fill="#161616" textLength="46.5" lengthAdjust="spacingAndGlyphs"  stroke="#161616" stroke-width="0.3">Calamar</text>
<rect x="159.9" y="153.8" width="7.9" height="9.7" fill="#050505"/>
<text x="175.0" y="161.5" font-size="10.4" fill="#161616" textLength="30.2" lengthAdjust="spacingAndGlyphs"  stroke="#161616" stroke-width="0.3">0.023</text>
<text x="4.6" y="179.9" font-size="11.5" fill="#161616" textLength="51.5" lengthAdjust="spacingAndGlyphs"  stroke="#161616" stroke-width="0.3">Macarela</text>
<rect x="159.9" y="172.5" width="17.1" height="9.7" fill="#050505"/>
<text x="185.1" y="180.2" font-size="10.4" fill="#161616" textLength="30.2" lengthAdjust="spacingAndGlyphs"  stroke="#161616" stroke-width="0.3">0.050</text>
<text x="4.6" y="198.6" font-size="11.5" fill="#161616" textLength="33.0" lengthAdjust="spacingAndGlyphs"  stroke="#161616" stroke-width="0.3">Mújol</text>
<rect x="159.9" y="191.2" width="17.1" height="9.7" fill="#050505"/>
<text x="185.1" y="198.9" font-size="10.4" fill="#161616" textLength="30.2" lengthAdjust="spacingAndGlyphs"  stroke="#161616" stroke-width="0.3">0.050</text>
<text x="4.6" y="217.2" font-size="11.5" fill="#161616" textLength="28.7" lengthAdjust="spacingAndGlyphs"  stroke="#161616" stroke-width="0.3">Solla</text>
<rect x="159.9" y="209.8" width="19.5" height="9.7" fill="#050505"/>
<text x="187.1" y="217.5" font-size="10.4" fill="#161616" textLength="30.2" lengthAdjust="spacingAndGlyphs"  stroke="#161616" stroke-width="0.3">0.056</text>
<text x="4.6" y="235.9" font-size="11.5" fill="#161616" textLength="50.7" lengthAdjust="spacingAndGlyphs"  stroke="#161616" stroke-width="0.3">Cangrejo</text>
<rect x="159.9" y="228.5" width="22.6" height="9.7" fill="#050505"/>
<text x="190.1" y="236.2" font-size="10.4" fill="#161616" textLength="30.2" lengthAdjust="spacingAndGlyphs"  stroke="#161616" stroke-width="0.3">0.065</text>
<text x="4.6" y="254.6" font-size="11.5" fill="#161616" textLength="80.1" lengthAdjust="spacingAndGlyphs"  stroke="#161616" stroke-width="0.3">Trucha común</text>
<rect x="159.9" y="247.2" width="24.6" height="9.7" fill="#050505"/>
<text x="192.1" y="254.9" font-size="10.4" fill="#161616" textLength="30.2" lengthAdjust="spacingAndGlyphs"  stroke="#161616" stroke-width="0.3">0.071</text>
<text x="4.6" y="273.2" font-size="11.5" fill="#161616" textLength="54.1" lengthAdjust="spacingAndGlyphs"  stroke="#161616" stroke-width="0.3">Arenques</text>
<rect x="159.9" y="265.8" width="29.2" height="9.7" fill="#050505"/>
<text x="196.5" y="273.5" font-size="10.4" fill="#161616" textLength="30.2" lengthAdjust="spacingAndGlyphs"  stroke="#161616" stroke-width="0.3">0.084</text>
<text x="4.6" y="291.9" font-size="11.5" fill="#161616" textLength="52.1" lengthAdjust="spacingAndGlyphs"  stroke="#161616" stroke-width="0.3">Langosta</text>
<rect x="159.9" y="284.5" width="32.2" height="9.7" fill="#050505"/>
<text x="199.5" y="292.2" font-size="10.4" fill="#161616" textLength="30.2" lengthAdjust="spacingAndGlyphs"  stroke="#161616" stroke-width="0.3">0.093</text>
<text x="4.6" y="310.6" font-size="11.5" fill="#161616" textLength="28.7" lengthAdjust="spacingAndGlyphs"  stroke="#161616" stroke-width="0.3">Mero</text>
<rect x="159.9" y="303.2" width="42.2" height="9.7" fill="#050505"/>
<text x="209.5" y="310.9" font-size="10.4" fill="#161616" textLength="30.2" lengthAdjust="spacingAndGlyphs"  stroke="#161616" stroke-width="0.3">0.121</text>
<text x="4.6" y="329.2" font-size="11.5" fill="#161616" textLength="42.1" lengthAdjust="spacingAndGlyphs"  stroke="#161616" stroke-width="0.3">Listado</text>
<rect x="159.9" y="321.9" width="50.3" height="9.7" fill="#050505"/>
<text x="217.6" y="329.6" font-size="10.4" fill="#161616" textLength="30.2" lengthAdjust="spacingAndGlyphs"  stroke="#161616" stroke-width="0.3">0.144</text>
<text x="4.6" y="439.7" font-size="11.5" fill="#161616" textLength="32.1" lengthAdjust="spacingAndGlyphs"  stroke="#161616" stroke-width="0.3">Carpa</text>
<rect x="159.9" y="430.9" width="39.0" height="9.7" fill="#f39a26"/>
<text x="205.9" y="440.0" font-size="10.4" fill="#161616" textLength="30.2" lengthAdjust="spacingAndGlyphs"  stroke="#161616" stroke-width="0.3">0.110</text>
<text x="4.6" y="458.4" font-size="11.5" fill="#161616" textLength="26.9" lengthAdjust="spacingAndGlyphs"  stroke="#161616" stroke-width="0.3">Raya</text>
<rect x="159.9" y="449.6" width="48.1" height="9.7" fill="#f39a26"/>
<text x="215.3" y="458.7" font-size="10.4" fill="#161616" textLength="30.2" lengthAdjust="spacingAndGlyphs"  stroke="#161616" stroke-width="0.3">0.137</text>
<text x="4.6" y="477.0" font-size="11.5" fill="#161616" textLength="30.8" lengthAdjust="spacingAndGlyphs"  stroke="#161616" stroke-width="0.3">Perca</text>
<rect x="159.9" y="468.2" width="53.0" height="9.7" fill="#f39a26"/>
<text x="219.7" y="477.3" font-size="10.4" fill="#161616" textLength="30.2" lengthAdjust="spacingAndGlyphs"  stroke="#161616" stroke-width="0.3">0.150</text>
<text x="4.6" y="495.7" font-size="11.5" fill="#161616" textLength="39.2" lengthAdjust="spacingAndGlyphs"  stroke="#161616" stroke-width="0.3">Róbalo</text>
<rect x="159.9" y="486.9" width="53.3" height="9.7" fill="#f39a26"/>
<text x="220.5" y="496.0" font-size="10.4" fill="#161616" textLength="30.2" lengthAdjust="spacingAndGlyphs"  stroke="#161616" stroke-width="0.3">0.152</text>
<text x="4.6" y="514.4" font-size="11.5" fill="#161616" textLength="32.1" lengthAdjust="spacingAndGlyphs"  stroke="#161616" stroke-width="0.3">Pargo</text>
<rect x="159.9" y="505.6" width="58.3" height="9.7" fill="#f39a26"/>
<text x="225.5" y="514.7" font-size="10.4" fill="#161616" textLength="30.2" lengthAdjust="spacingAndGlyphs"  stroke="#161616" stroke-width="0.3">0.166</text>
<text x="4.6" y="533.0" font-size="11.5" fill="#161616" textLength="81.1" lengthAdjust="spacingAndGlyphs"  stroke="#161616" stroke-width="0.3">Trucha de mar</text>
<rect x="159.9" y="524.2" width="82.3" height="9.7" fill="#f39a26"/>
<text x="249.8" y="533.3" font-size="10.4" fill="#161616" textLength="30.2" lengthAdjust="spacingAndGlyphs"  stroke="#161616" stroke-width="0.3">0.235</text>
<text x="4.6" y="551.7" font-size="11.5" fill="#161616" textLength="127.0" lengthAdjust="spacingAndGlyphs"  stroke="#161616" stroke-width="0.3">Atún de aleta amarilla</text>
<rect x="159.9" y="542.9" width="124.2" height="9.7" fill="#f39a26"/>
<text x="291.4" y="552.0" font-size="10.4" fill="#161616" textLength="30.2" lengthAdjust="spacingAndGlyphs"  stroke="#161616" stroke-width="0.3">0.354</text>
<text x="4.6" y="570.4" font-size="11.5" fill="#161616" textLength="49.7" lengthAdjust="spacingAndGlyphs"  stroke="#161616" stroke-width="0.3">Albacora</text>
<rect x="159.9" y="561.6" width="125.3" height="9.7" fill="#f39a26"/>
<text x="292.3" y="570.7" font-size="10.4" fill="#161616" textLength="30.2" lengthAdjust="spacingAndGlyphs"  stroke="#161616" stroke-width="0.3">0.358</text>
<text x="4.6" y="693.9" font-size="11.5" fill="#161616" textLength="32.1" lengthAdjust="spacingAndGlyphs"  stroke="#161616" stroke-width="0.3">Aguja</text>
<rect x="159.9" y="685.1" width="169.3" height="9.7" fill="#e0222a"/>
<text x="336.3" y="694.2" font-size="10.4" fill="#161616" textLength="30.2" lengthAdjust="spacingAndGlyphs"  stroke="#161616" stroke-width="0.3">0.485</text>
<text x="4.6" y="712.6" font-size="11.5" fill="#161616" textLength="93.4" lengthAdjust="spacingAndGlyphs"  stroke="#161616" stroke-width="0.3">Thunnus obesus</text>
<rect x="159.9" y="703.8" width="240.3" height="9.7" fill="#e0222a"/>
<text x="406.8" y="712.9" font-size="10.4" fill="#161616" textLength="30.2" lengthAdjust="spacingAndGlyphs"  stroke="#161616" stroke-width="0.3">0.689</text>
<text x="4.6" y="731.2" font-size="11.5" fill="#161616" textLength="67.5" lengthAdjust="spacingAndGlyphs"  stroke="#161616" stroke-width="0.3">Caballa real</text>
<rect x="159.9" y="722.4" width="255.1" height="9.7" fill="#e0222a"/>
<text x="421.6" y="731.5" font-size="10.4" fill="#161616" textLength="30.2" lengthAdjust="spacingAndGlyphs"  stroke="#161616" stroke-width="0.3">0.730</text>
<text x="4.6" y="749.9" font-size="11.5" fill="#161616" textLength="44.5" lengthAdjust="spacingAndGlyphs"  stroke="#161616" stroke-width="0.3">Tiburón</text>
<rect x="159.9" y="741.1" width="341.6" height="9.7" fill="#e0222a"/>
<text x="508.5" y="750.2" font-size="10.4" fill="#161616" textLength="30.2" lengthAdjust="spacingAndGlyphs"  stroke="#161616" stroke-width="0.3">0.979</text>
<text x="4.6" y="768.6" font-size="11.5" fill="#161616" textLength="62.8" lengthAdjust="spacingAndGlyphs"  stroke="#161616" stroke-width="0.3">Pez espada</text>
<rect x="159.9" y="759.8" width="347.2" height="9.7" fill="#e0222a"/>
<text x="514.5" y="768.9" font-size="10.4" fill="#161616" textLength="30.2" lengthAdjust="spacingAndGlyphs"  stroke="#161616" stroke-width="0.3">0.995</text>
<text x="198.2" y="47.6" font-size="9.5" fill="#c8323a"  stroke="#c8323a" stroke-width="0.3">*</text>
<text x="158.0" y="360.6" font-size="9.5" fill="#c8323a"  stroke="#c8323a" stroke-width="0.3">*</text>
<text x="166.0" y="363.2" font-size="10.2" fill="#1a1a1a" textLength="190.5" lengthAdjust="spacingAndGlyphs" stroke="#1a1a1a" stroke-width="0.45">Partes por millón. 1 ppm = 0,0001%</text>
<text x="325.4" y="94.3" font-size="11.5" fill="#161616" textLength="54.5" lengthAdjust="spacingAndGlyphs"  stroke="#161616" stroke-width="0.3">Arenques</text>
<text x="382.5" y="196.6" font-size="11.5" fill="#161616" textLength="50.5" lengthAdjust="spacingAndGlyphs"  stroke="#161616" stroke-width="0.3">Cangrejo</text>
<text x="578.9" y="243.6" font-size="11.5" fill="#161616" textLength="38.0" lengthAdjust="spacingAndGlyphs"  stroke="#161616" stroke-width="0.3">Tilapia</text>
<text x="424.3" y="317.5" font-size="11.5" fill="#161616" textLength="28.7" lengthAdjust="spacingAndGlyphs"  stroke="#161616" stroke-width="0.3">Solla</text>
<text x="531.4" y="327.8" font-size="11.5" fill="#161616" textLength="50.2" lengthAdjust="spacingAndGlyphs"  stroke="#161616" stroke-width="0.3">Camarón</text>
<text x="442.7" y="524.4" font-size="11.5" fill="#161616" textLength="27.4" lengthAdjust="spacingAndGlyphs"  stroke="#161616" stroke-width="0.3">Raya</text>
<text x="564.7" y="524.6" font-size="11.5" fill="#161616" textLength="49.8" lengthAdjust="spacingAndGlyphs"  stroke="#161616" stroke-width="0.3">Albacora</text>
<text x="542.4" y="601.3" font-size="11.5" fill="#161616" textLength="80.0" lengthAdjust="spacingAndGlyphs"  stroke="#161616" stroke-width="0.3">Trucha de mar</text>
<text x="572.6" y="755.9" font-size="11.5" fill="#161616" textLength="62.2" lengthAdjust="spacingAndGlyphs"  stroke="#161616" stroke-width="0.3">Pez espada</text>
</g>
<g id="footer" opacity="0.999">
<defs>
  <clipPath id="globeClip"><ellipse cx="17.1" cy="856.6" rx="12.1" ry="9.8"/></clipPath>
</defs>
<g id="logo">
  <ellipse cx="17.1" cy="856.6" rx="12.1" ry="9.8" fill="#2f2f2f"/>
  <g clip-path="url(#globeClip)" fill="none" stroke="#ffffff" stroke-width="1.35">
    <circle cx="24.8" cy="850" r="4.4"/>
    <circle cx="24.8" cy="850" r="7.2"/>
    <circle cx="24.8" cy="850" r="10"/>
  </g>
  <path d="M22,846 L30,846 L30,858 Z" fill="#fff" opacity="0"/>
  <text x="32.8" y="861.2" font-size="12.2" font-weight="bold" fill="#2b2b2b" stroke="#2b2b2b" stroke-width="0.4" textLength="20.8" lengthAdjust="spacingAndGlyphs">RIA</text>
  <text x="53.6" y="861.2" font-size="12.2" font-weight="bold" fill="#a3a3a3" stroke="#a3a3a3" stroke-width="0.4" textLength="52.6" lengthAdjust="spacingAndGlyphs">NOVOSTI</text>
  <circle cx="118.9" cy="856.7" r="4.7" fill="none" stroke="#1e1e1e" stroke-width="1.3"/>
  <path d="M120.6,855.2 A2.1,2.1 0 1 0 120.6,858.2" fill="none" stroke="#1e1e1e" stroke-width="1.1"/>
  <text x="126.9" y="861" font-size="12" font-weight="bold" fill="#1a1a1a" stroke="#1a1a1a" stroke-width="0.45" textLength="22" lengthAdjust="spacingAndGlyphs">2011</text>
  <text x="155" y="861" font-size="12" font-weight="bold" fill="#1a1a1a" stroke="#1a1a1a" stroke-width="0.45" textLength="78" lengthAdjust="spacingAndGlyphs">WWW.RIA.RU</text>
</g>

</g>
</svg>
</body></html>
